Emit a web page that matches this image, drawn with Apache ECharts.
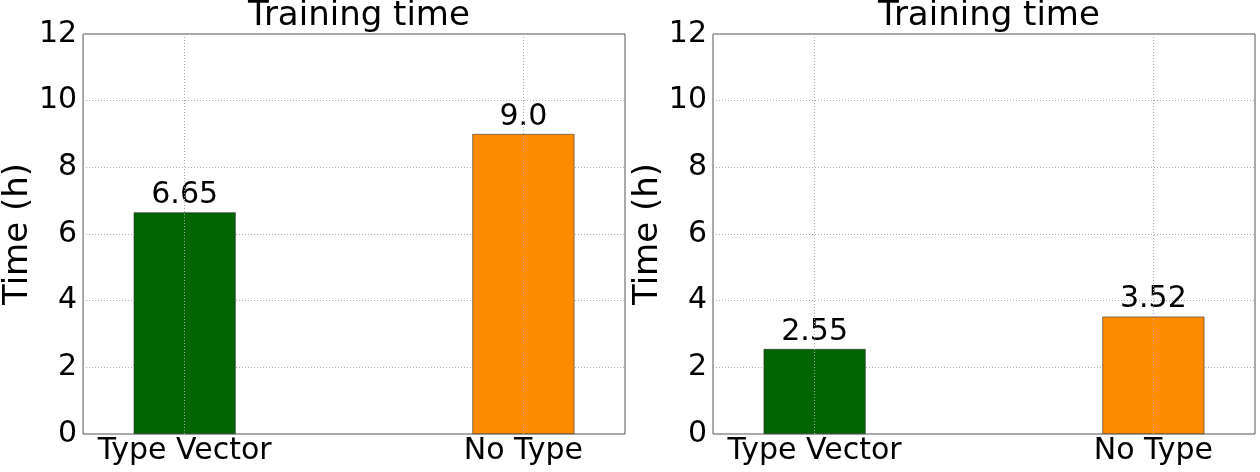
<!DOCTYPE html><html><head><meta charset="utf-8">
<script src="https://cdn.jsdelivr.net/npm/echarts@6/dist/echarts.min.js"></script>
<style>html,body{margin:0;padding:0;background:#fff}#c{width:1260px;height:472px}</style></head>
<body><div id="c"></div><script>
const categories=['Type Vector','No Type'];
const leftValues=[6.65,9.0];
const rightValues=[2.55,3.52];
const leftLabels=['6.65','9.0'];
const rightLabels=['2.55','3.52'];
const colors=['#006400','#ff8c00'];
const yTicks=[0,2,4,6,8,10,12];
const F='DejaVu Sans';
const grids=[{left:83,top:34,width:542,height:400},{left:713,top:34,width:542,height:400}];
function xAx(i){return {type:'value',gridIndex:i,min:-0.3,max:1.3,
 axisLine:{show:false},axisTick:{show:false},splitLine:{show:false},
 axisLabel:{customValues:[0,1],formatter:v=>categories[Math.round(v)],color:'#000',fontFamily:F,fontSize:30,margin:2}};}
function yAx(i){return {type:'value',gridIndex:i,min:0,max:12,interval:2,name:'Time (h)',nameLocation:'middle',nameGap:48,
 nameTextStyle:{fontFamily:F,fontSize:34,color:'#000'},axisLine:{show:false},axisTick:{show:false},
 axisLabel:{color:'#000',fontFamily:F,fontSize:30,margin:6},
 splitLine:{show:true,lineStyle:{color:'#aaa',type:[1,2],width:1}}};}
function ser(i,vals,labs){return {type:'bar',xAxisIndex:i,yAxisIndex:i,barWidth:102,
 data:vals.map((v,k)=>({value:[k,v],itemStyle:{color:colors[k],borderColor:'#333',borderWidth:0.6},
  label:{show:true,position:'top',formatter:labs[k],distance:2,fontFamily:F,fontSize:30,color:'#000'}})),
 markLine:{silent:true,symbol:'none',label:{show:false},lineStyle:{color:'#aaa',type:[1,2],width:1},data:[{xAxis:0},{xAxis:1}]}};}
const chart=echarts.init(document.getElementById('c'));
chart.setOption({animation:false,
 title:[{text:'Training time',left:354,top:-6,textAlign:'center',textStyle:{fontFamily:F,fontSize:34,fontWeight:'normal',color:'#000'}},
        {text:'Training time',left:984,top:-6,textAlign:'center',textStyle:{fontFamily:F,fontSize:34,fontWeight:'normal',color:'#000'}}],
 grid:grids.map(g=>Object.assign({show:true,borderColor:'#555',borderWidth:1,backgroundColor:'transparent'},g)),
 xAxis:[xAx(0),xAx(1)],yAxis:[yAx(0),yAx(1)],
 series:[ser(0,leftValues,leftLabels),ser(1,rightValues,rightLabels)]});
</script></body></html>
